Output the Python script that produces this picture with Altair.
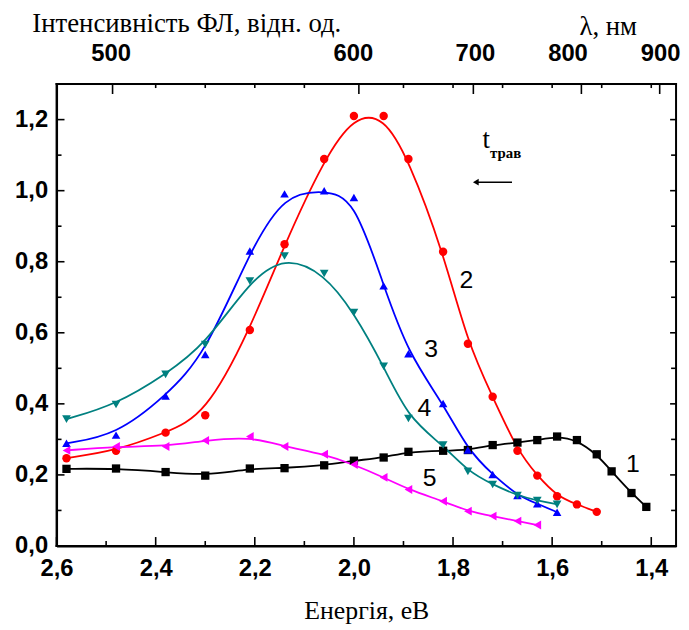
import altair as alt
import pandas as pd

# ---------------- data ----------------
energy = [2.58, 2.48, 2.38, 2.30, 2.21, 2.14, 2.06, 2.00, 1.94, 1.89, 1.82,
          1.77, 1.72, 1.67, 1.63, 1.59, 1.55, 1.51, 1.48, 1.44, 1.41]

s1 = [0.217, 0.218, 0.208, 0.198, 0.218, 0.219, 0.227, 0.240, 0.249, 0.265, 0.268,
      0.270, 0.284, 0.291, 0.298, 0.308, 0.298, 0.258, 0.210, 0.149, 0.110]
s2 = [0.247, 0.268, 0.319, 0.368, 0.608, 0.849, 1.089, 1.210, 1.210, 1.089, 0.828,
      0.569, 0.420, 0.268, 0.198, 0.140, 0.117, 0.096]
s3 = [0.289, 0.312, 0.422, 0.539, 0.830, 0.991, 1.000, 0.981, 0.732, 0.541, 0.401,
      0.270, 0.201, 0.142, 0.119, 0.095]
s4 = [0.357, 0.398, 0.483, 0.567, 0.746, 0.816, 0.767, 0.657, 0.506, 0.359, 0.284,
      0.210, 0.173, 0.142, 0.128, 0.117]
s5 = [0.269, 0.280, 0.280, 0.297, 0.308, 0.280, 0.258, 0.229, 0.193, 0.159, 0.126,
      0.098, 0.084, 0.070, 0.059]

series_names = ["1", "2", "3", "4", "5"]
series_values = [s1, s2, s3, s4, s5]
series_colors = ["#000000", "#ff0000", "#0000ff", "#008080", "#ff00ff"]
series_shapes = ["square", "circle", "triangle-up", "triangle-down", "triangle-left"]
series_sizes = [70, 80, 130, 130, 130]

# curve number annotations
curve_label_text = ["1", "2", "3", "4", "5"]
curve_label_E = [1.437, 1.773, 1.844, 1.858, 1.847]
curve_label_I = [0.231, 0.747, 0.555, 0.387, 0.192]

# axis ticks
x_major = [2.6, 2.4, 2.2, 2.0, 1.8, 1.6, 1.4]
x_minor = [2.5, 2.3, 2.1, 1.9, 1.7, 1.5]
y_major = [0.0, 0.2, 0.4, 0.6, 0.8, 1.0, 1.2]
y_minor = [0.1, 0.3, 0.5, 0.7, 0.9, 1.1]
top_minor = [2.4, 2.3, 2.2, 2.1, 1.9, 1.8, 1.7, 1.6, 1.5, 1.4]
x_limits = [2.6, 1.35]
y_limits = [0.0, 1.3]

# top wavelength axis (nm) as drawn in the figure
wl_labels = ["500", "600", "700", "800", "900"]
wl_tick_E = [2.487, 1.990, 1.759, 1.541, 1.383]
wl_label_E = [2.490, 2.001, 1.755, 1.568, 1.381]

# ---------------- tables ----------------
rows = []
for name, vals in zip(series_names, series_values):
    for e, v in zip(energy, vals):
        rows.append({"E": e, "I": v, "s": name})
df = pd.DataFrame(rows)

W, H = 625, 466
PX_E = W / abs(x_limits[0] - x_limits[1])   # pixels per eV
PX_I = H / (y_limits[1] - y_limits[0])      # pixels per intensity unit

xs = alt.Scale(domain=x_limits, nice=False, zero=False)
ys = alt.Scale(domain=y_limits, nice=False, zero=False)
col = alt.Scale(domain=series_names, range=series_colors)
shp = alt.Scale(domain=series_names, range=series_shapes)
siz = alt.Scale(domain=series_names, range=series_sizes)

x_axis = alt.Axis(
    values=x_major, labelExpr="replace(format(datum.value, '.1f'), '.', ',')",
    ticks=False, domain=True, domainColor="black", domainWidth=2, grid=False,
    labelFont="Liberation Sans",
    labelFontWeight="bold", labelFontSize=24, labelColor="black", labelPadding=11,
    labelFlush=False, labelOverlap=False,
    title="Енергія, еВ", titleFont="Liberation Serif", titleFontWeight="normal",
    titleFontSize=26, titleColor="black", titleBaseline="alphabetic", titleY=73,
)
y_axis = alt.Axis(
    values=y_major, labelExpr="replace(format(datum.value, '.1f'), '.', ',')",
    ticks=False, domain=True, domainColor="black", domainWidth=2, grid=False,
    labelFont="Liberation Sans",
    labelFontWeight="bold", labelFontSize=24, labelColor="black", labelPadding=9,
    labelFlush=False, labelOverlap=False,
    title="Інтенсивність ФЛ, відн. од.", titleFont="Liberation Serif",
    titleFontWeight="normal", titleFontSize=27, titleColor="black", titleAngle=0,
    titleAlign="left", titleBaseline="alphabetic", titleX=-25, titleY=-53,
)

lines = alt.Chart(df).mark_line(interpolate="basis", strokeWidth=1.8).encode(
    x=alt.X("E:Q", scale=xs, axis=x_axis),
    y=alt.Y("I:Q", scale=ys, axis=y_axis),
    color=alt.Color("s:N", scale=col, legend=None),
    detail="s:N",
)
points = alt.Chart(df).mark_point(filled=True, opacity=1).encode(
    x=alt.X("E:Q", scale=xs),
    y=alt.Y("I:Q", scale=ys),
    color=alt.Color("s:N", scale=col, legend=None),
    shape=alt.Shape("s:N", scale=shp, legend=None),
    size=alt.Size("s:N", scale=siz, legend=None),
)

lab_df = pd.DataFrame({"E": curve_label_E, "I": curve_label_I, "t": curve_label_text})
curve_labels = alt.Chart(lab_df).mark_text(
    font="Liberation Sans", fontSize=25, color="black", baseline="middle", align="center"
).encode(x=alt.X("E:Q", scale=xs), y=alt.Y("I:Q", scale=ys), text="t:N")

# t_трав annotation and arrow
ann_t = alt.Chart(pd.DataFrame({"E": [1.733], "I": [1.119], "t": ["t"]})).mark_text(
    font="Liberation Serif", fontSize=27, color="black", baseline="alphabetic", align="center"
).encode(x=alt.X("E:Q", scale=xs), y=alt.Y("I:Q", scale=ys), text="t:N")
ann_sub = alt.Chart(pd.DataFrame({"E": [1.7254], "I": [1.092], "t": ["трав"]})).mark_text(
    font="Liberation Serif", fontSize=15, fontWeight="bold", color="black",
    baseline="alphabetic", align="left"
).encode(x=alt.X("E:Q", scale=xs), y=alt.Y("I:Q", scale=ys), text="t:N")
arrow_line = alt.Chart(pd.DataFrame({"E": [1.681], "E2": [1.752], "I": [1.024]})).mark_rule(
    color="black", strokeWidth=1.5
).encode(x=alt.X("E:Q", scale=xs), x2="E2:Q", y=alt.Y("I:Q", scale=ys))
arrow_head = alt.Chart(pd.DataFrame({"E": [1.754], "I": [1.024]})).mark_point(
    shape="triangle-left", filled=True, size=45, color="black", opacity=1
).encode(x=alt.X("E:Q", scale=xs), y=alt.Y("I:Q", scale=ys))


# inward ticks and frame edges as thin filled bars (data units converted from pixels)
bar_rows = []
def vbar(e, i0, i1, w_px):
    h = w_px / 2 / PX_E
    bar_rows.append({"E": e + h, "E2": e - h, "I": i0, "I2": i1})

def hbar(i, e0, e1, w_px):
    h = w_px / 2 / PX_I
    bar_rows.append({"E": e0, "E2": e1, "I": i - h, "I2": i + h})

for vals, L in [(x_major, 9), (x_minor, 5)]:
    for v in vals:
        vbar(v, y_limits[0], y_limits[0] + L / PX_I, 1.6)
for vals, L in [(top_minor, 4), (wl_tick_E, 10)]:
    for v in vals:
        vbar(v, y_limits[1], y_limits[1] - L / PX_I, 1.6)
for vals, L in [(y_major, 8), (y_minor, 5)]:
    for v in vals:
        hbar(v, x_limits[0], x_limits[0] - L / PX_E, 1.6)
for vals, L in [(y_major[1:], 6), (y_minor, 5)]:
    for v in vals:
        hbar(v, x_limits[1], x_limits[1] + L / PX_E, 1.6)
ext_e = 1 / PX_E
ext_i = 1 / PX_I
vbar(x_limits[0], y_limits[0] - ext_i, y_limits[1] + ext_i, 2)
vbar(x_limits[1], y_limits[0] - ext_i, y_limits[1] + ext_i, 2)
hbar(y_limits[0], x_limits[0] + ext_e, x_limits[1] - ext_e, 2)
hbar(y_limits[1], x_limits[0] + ext_e, x_limits[1] - ext_e, 2)
bars_df = pd.DataFrame(bar_rows)

bars = alt.Chart(bars_df).mark_rect(color="black", opacity=1).encode(
    x=alt.X("E:Q", scale=xs), x2="E2:Q",
    y=alt.Y("I:Q", scale=ys), y2="I2:Q",
)

wl_df = pd.DataFrame({"E": wl_label_E, "t": wl_labels})
wl_text = alt.Chart(wl_df).mark_text(
    font="Liberation Sans", fontSize=24, fontWeight="bold", color="black",
    baseline="middle", align="center"
).encode(x=alt.X("E:Q", scale=xs), y=alt.value(-30), text="t:N")
lam_text = alt.Chart(pd.DataFrame({"E": [1.545], "t": ["λ, нм"]})).mark_text(
    font="Liberation Serif", fontSize=27, color="black", baseline="alphabetic", align="left"
).encode(x=alt.X("E:Q", scale=xs), y=alt.value(-50), text="t:N")

chart = alt.layer(
    lines, points, curve_labels, ann_t, ann_sub, arrow_line, arrow_head,
    bars, wl_text, lam_text
).properties(
    width=W, height=H,
    padding={"left": 49, "top": 74, "right": 5, "bottom": 80},
    autosize=alt.AutoSizeParams(type="none"),
    background="white",
)

chart.save("out.html", embed_options={"renderer": "svg", "actions": False})
